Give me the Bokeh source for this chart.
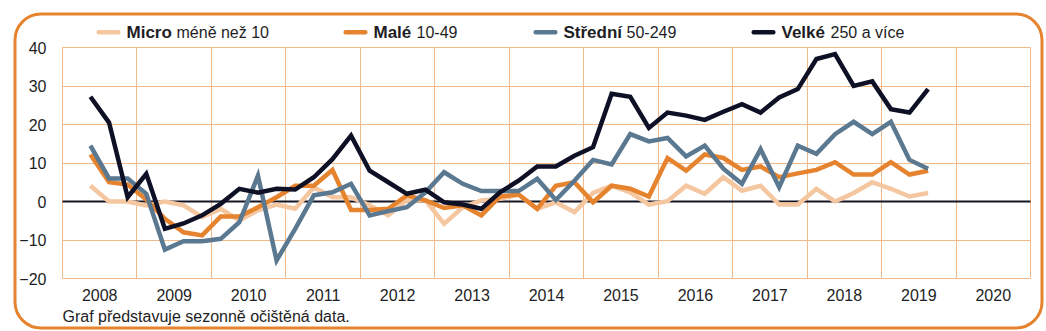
from bokeh.plotting import figure
from bokeh.models import Range1d, FixedTicker, Label, BoxAnnotation
from bokeh.embed import file_html
from bokeh.resources import INLINE

# ---- data (quarterly, 2008Q2 .. 2019Q3) ----
start_year, start_q = 2008, 2
micro = [4.1, 0, 0, -1, 0, -1, -4, -1.9, -4.9, -2.3, -0.8, -1.9, 3.7, 1.1, 1.1, -1,
         -3.6, 0.4, 0.3, -5.8, -1.5, 0.3, 0.7, 1.8, -1.9, -0.2, -2.8, 2.2, 4.1, 2.4,
         -0.8, 0.1, 4.1, 2, 6.3, 2.8, 4.1, -0.8, -0.8, 3.3, 0, 2.2, 5, 3.3, 1.3, 2.2]
male = [12.2, 5, 4.4, 0.5, -4.5, -8, -8.8, -3.9, -3.9, -1.5, 1.1, 4.1, 4.1, 8.2, -2.2, -2.2,
        -1.9, 1.6, 0.3, -1.7, -1, -3.6, 1.3, 1.8, -1.9, 4.1, 5, -0.2, 4.1, 3.3,
        1.3, 11.3, 8, 12.2, 11.3, 8.2, 9.1, 6.3, 7.3, 8.2, 10.2, 7, 7, 10.2, 7, 8]
stredni = [14.5, 6, 6, 2, -12.5, -10.3, -10.3, -9.7, -5.4, 6.7, -15.3, -7.1, 1.6, 2.4, 4.6, -3.6,
           -2.5, -1.5, 2.4, 7.6, 4.6, 2.7, 2.7, 2.7, 5.9, 0.4, 5.4, 10.8, 9.6, 17.5,
           15.6, 16.5, 11.7, 14.5, 8.5, 4.6, 13.6, 3.7, 14.5, 12.4, 17.5, 20.7, 17.5, 20.7, 10.8, 8.5]
velke = [27.2, 20.5, 1.1, 7.2, -7.1, -5.7, -3.6, -0.6, 3.3, 2.3, 3.3, 3.1, 6.3, 11, 17.1, 8,
         5, 2, 3.1, -0.2, -0.8, -1.9, 2.4, 5.4, 9.1, 9.1, 11.9, 14.1, 28, 27.2,
         19.1, 23.1, 22.3, 21.2, 23.3, 25.3, 23.1, 27, 29.2, 37, 38.3, 30, 31.2, 24, 23.1, 29.2]
years = list(range(2008, 2021))
y_ticks = [-20, -10, 0, 10, 20, 30, 40]

legend_bold = ["Micro", "Malé", "Střední", "Velké"]
legend_rest = ["méně než 10", "10-49", "50-249", "250 a více"]
footnote = "Graf představuje sezonně očištěná data."

c_micro, c_male, c_str, c_vel = "#F5C7A0", "#E5832E", "#5A7890", "#0E1026"
grid_c = "#F2B98A"
txt_c = "#1E1E24"
FONT = "Liberation Sans"

W, H = 1046, 331
# chart box in canvas pixels
box_l, box_r, box_t, box_b = 62, 1030, 47, 278

n_q = 4 * len(years)
y0, y1 = y_ticks[0], y_ticks[-1]
kx = (box_r - box_l) / n_q
ky = (box_b - box_t) / (y1 - y0)
x_range = Range1d(-box_l / kx, n_q + (W - box_r) / kx)
y_range = Range1d(y0 - (H - box_b) / ky, y1 + box_t / ky)

# x in quarter units: year band k spans [4k, 4k+4], quarter centred
n = len(velke)
xq = [4 * (start_year - years[0]) + (start_q - 1) + 0.5 + i for i in range(n)]

p = figure(width=W, height=H, output_backend="svg", toolbar_location=None,
           x_range=x_range, y_range=y_range,
           min_border_left=0, min_border_right=0, min_border_top=0, min_border_bottom=0,
           background_fill_color="white", border_fill_color="white")
p.outline_line_color = None

# grids (limited to chart box)
p.xgrid.ticker = FixedTicker(ticks=[4 * k for k in range(len(years) + 1)])
p.ygrid.ticker = FixedTicker(ticks=y_ticks)
p.xgrid.cross_bounds = (y0, y1)
p.ygrid.cross_bounds = (0, n_q)
for g in (p.xgrid[0], p.ygrid[0]):
    g.grid_line_color = grid_c
    g.grid_line_width = 1

# axes placed at the chart box edges
label_pos = [4 * k + 2 for k in range(len(years))]
p.xaxis.fixed_location = y0
p.yaxis.fixed_location = 0
p.xaxis.ticker = FixedTicker(ticks=label_pos)
p.xaxis.major_label_overrides = {lp: str(y) for lp, y in zip(label_pos, years)}
p.yaxis.ticker = FixedTicker(ticks=y_ticks)
for ax in (p.xaxis[0], p.yaxis[0]):
    ax.axis_line_color = None
    ax.major_tick_line_color = None
    ax.minor_tick_line_color = None
    ax.major_label_text_font = FONT
    ax.major_label_text_font_size = "16px"
    ax.major_label_text_color = txt_c
p.xaxis.major_label_standoff = 4
p.yaxis.major_label_standoff = 10

# zero line across the chart box
p.segment(x0=[0], x1=[n_q], y0=[0], y1=[0], line_color="#151525", line_width=2)

for vals, col in [(micro, c_micro), (male, c_male), (stredni, c_str), (velke, c_vel)]:
    p.line(xq, vals, line_color=col, line_width=4.5, line_join="miter")

# rounded outer border
p.add_layout(BoxAnnotation(left=14.5, right=1041.5, top=13.5, bottom=327.5,
                           left_units="canvas", right_units="canvas",
                           top_units="canvas", bottom_units="canvas",
                           fill_color=None, fill_alpha=0, line_color=c_male, line_alpha=1,
                           line_width=3, border_radius=26, level="overlay"))

# legend
sw_x = [96, 343, 533, 751]
bold_x = [126, 373, 563, 781]
rest_x = [176, 416, 626, 830]
for col, sx, bx, rx, b, r in zip([c_micro, c_male, c_str, c_vel], sw_x, bold_x, rest_x,
                                 legend_bold, legend_rest):
    p.add_layout(BoxAnnotation(left=sx, right=sx + 24, top=29.5, bottom=34, fill_color=col,
                               fill_alpha=1, line_color=None, border_radius=2,
                               left_units="canvas", right_units="canvas",
                               top_units="canvas", bottom_units="canvas", level="overlay"))
    p.add_layout(Label(x=bx, y=31.5, x_units="canvas", y_units="canvas", text=b,
                       text_font=FONT, text_font_size="17px", text_font_style="bold",
                       text_color=txt_c, text_baseline="middle", text_align="left"))
    p.add_layout(Label(x=rx, y=31.5, x_units="canvas", y_units="canvas", text=r,
                       text_font=FONT, text_font_size="16px",
                       text_color=txt_c, text_baseline="middle", text_align="left"))

p.add_layout(Label(x=62, y=315.5, x_units="canvas", y_units="canvas", text=footnote,
                   text_font=FONT, text_font_size="16px", text_color=txt_c,
                   text_baseline="middle", text_align="left"))

open("out.html", "w").write(file_html(p, INLINE))
